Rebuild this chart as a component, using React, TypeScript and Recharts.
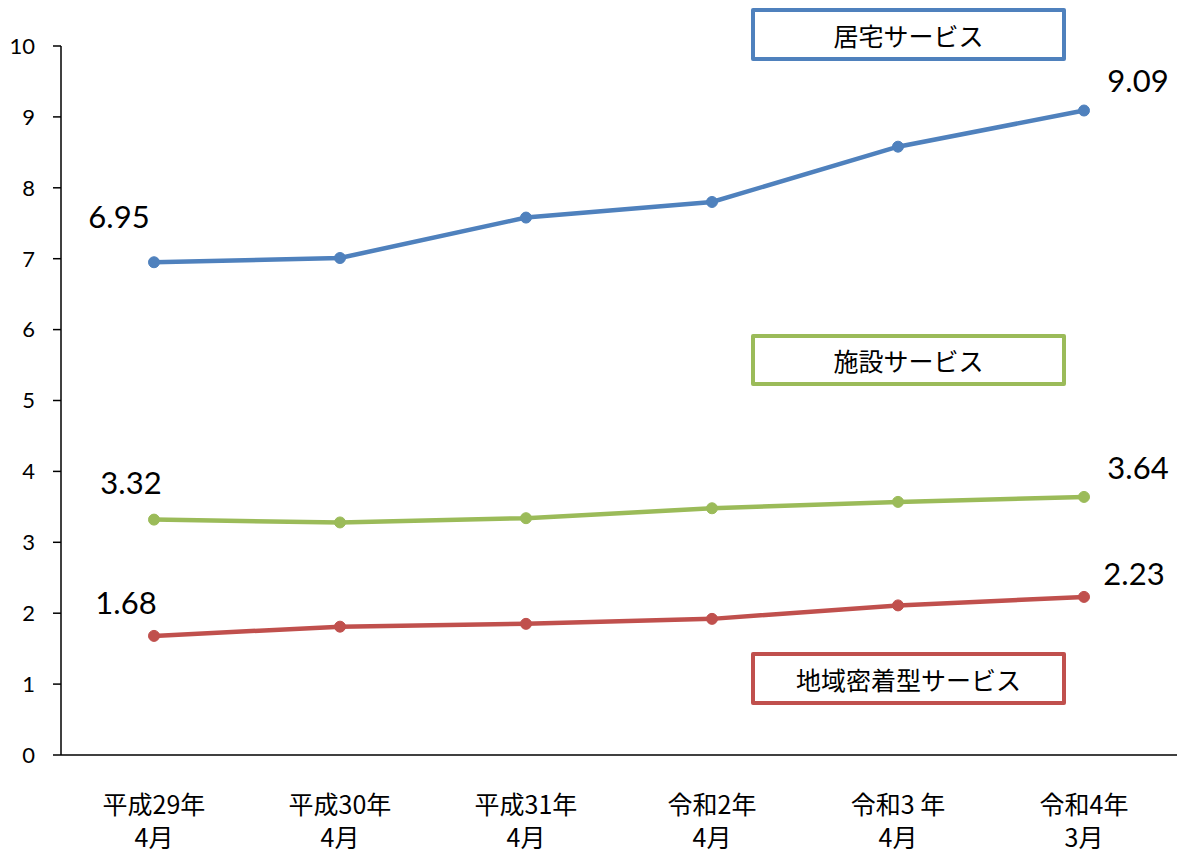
import React from 'react';
import { LineChart, Line, XAxis, YAxis, LabelList } from 'recharts';

const periods = ['平成29年\n4月', '平成30年\n4月', '平成31年\n4月', '令和2年\n4月', '令和3 年\n4月', '令和4年\n3月'];
const kyotaku = [6.95, 7.01, 7.58, 7.8, 8.58, 9.09];
const shisetsu = [3.32, 3.28, 3.34, 3.48, 3.57, 3.64];
const chiiki = [1.68, 1.81, 1.85, 1.92, 2.11, 2.23];
const yTicks = [0, 1, 2, 3, 4, 5, 6, 7, 8, 9, 10];
const edgeTicks = [0, 1, 2, 3, 4, 5, 6];

const data = periods.map((p, i) => ({
  period: p,
  kyotaku: kyotaku[i],
  shisetsu: shisetsu[i],
  chiiki: chiiki[i],
}));

const BLUE = '#4F81BD';
const GREEN = '#9BBB59';
const RED = '#C0504D';
const NUM_FONT = "Lato, 'Noto Sans CJK JP', sans-serif";
const JP_FONT = "'Noto Sans CJK JP', sans-serif";

// label offsets from the point: [first, last]
const labelOffsets: Record<string, [number, number][]> = {
  kyotaku: [[-35, -46], [54, -31]],
  shisetsu: [[-23, -38], [54, -30]],
  chiiki: [[-28, -34], [50, -24]],
};

const makeLabel = (key: string) => (props: any) => {
  const { x, y, value, index } = props;
  const last = data.length - 1;
  if (index !== 0 && index !== last) return null;
  const [dx, dy] = labelOffsets[key][index === 0 ? 0 : 1];
  return (
    <text x={x + dx} y={y + dy} textAnchor="middle" dominantBaseline="central"
      fontSize={31} fontFamily={NUM_FONT} fill="#000">
      {value.toFixed(2)}
    </text>
  );
};

const CategoryTick = (props: any) => {
  const { x, y, payload } = props;
  const lines = String(payload.value).split('\n');
  return (
    <g>
      {lines.map((l, i) => (
        <text key={i} x={x} y={y + 39 + i * 33} textAnchor="middle" dominantBaseline="central"
          fontSize={25} fontFamily={JP_FONT} fill="#000">
          {l}
        </text>
      ))}
    </g>
  );
};

const boxes = [
  { label: '居宅サービス', color: BLUE, top: 8, height: 53 },
  { label: '施設サービス', color: GREEN, top: 334, height: 52 },
  { label: '地域密着型サービス', color: RED, top: 652, height: 53 },
];

export default function App() {
  return (
    <div style={{ position: 'absolute', left: 0, top: 0, width: 1181, height: 852, background: '#fff' }}>
      <LineChart width={1181} height={852} data={data}
        margin={{ top: 46, right: 4, bottom: 0, left: 0 }}>
        <XAxis xAxisId="a_edges" type="number" domain={[0, 6]} allowDataOverflow ticks={edgeTicks}
          tick={false} tickSize={8} height={1} stroke="#000"
          axisLine={{ stroke: '#000', strokeWidth: 1.5 }} tickLine={{ stroke: '#000', strokeWidth: 1.5 }} />
        <XAxis xAxisId="b_cat" dataKey="period" scale="band" height={96}
          axisLine={false} tickLine={false} tick={<CategoryTick />} interval={0} />
        <YAxis domain={[0, 10]} ticks={yTicks} width={61} tickSize={8} tickMargin={18}
          interval={0}
          axisLine={{ stroke: '#000', strokeWidth: 1.5 }} tickLine={{ stroke: '#000', strokeWidth: 1.5 }}
          tick={{ fontSize: 22, fontFamily: NUM_FONT, fill: '#000' }} />
        <Line xAxisId="b_cat" dataKey="kyotaku" stroke={BLUE} strokeWidth={4.5}
          dot={{ r: 5.5, fill: BLUE, stroke: BLUE, strokeWidth: 1 }} isAnimationActive={false}>
          <LabelList dataKey="kyotaku" content={makeLabel('kyotaku')} />
        </Line>
        <Line xAxisId="b_cat" dataKey="shisetsu" stroke={GREEN} strokeWidth={4.5}
          dot={{ r: 5.5, fill: GREEN, stroke: GREEN, strokeWidth: 1 }} isAnimationActive={false}>
          <LabelList dataKey="shisetsu" content={makeLabel('shisetsu')} />
        </Line>
        <Line xAxisId="b_cat" dataKey="chiiki" stroke={RED} strokeWidth={4.5}
          dot={{ r: 5.5, fill: RED, stroke: RED, strokeWidth: 1 }} isAnimationActive={false}>
          <LabelList dataKey="chiiki" content={makeLabel('chiiki')} />
        </Line>
      </LineChart>
      {boxes.map((b) => (
        <div key={b.label} style={{
          position: 'absolute', left: 751, top: b.top, width: 315, height: b.height,
          boxSizing: 'border-box', border: `4px solid ${b.color}`, borderRadius: 2,
          display: 'flex', alignItems: 'center', justifyContent: 'center',
          fontFamily: JP_FONT, fontSize: 25, color: '#000', background: '#fff',
        }}>
          {b.label}
        </div>
      ))}
    </div>
  );
}
